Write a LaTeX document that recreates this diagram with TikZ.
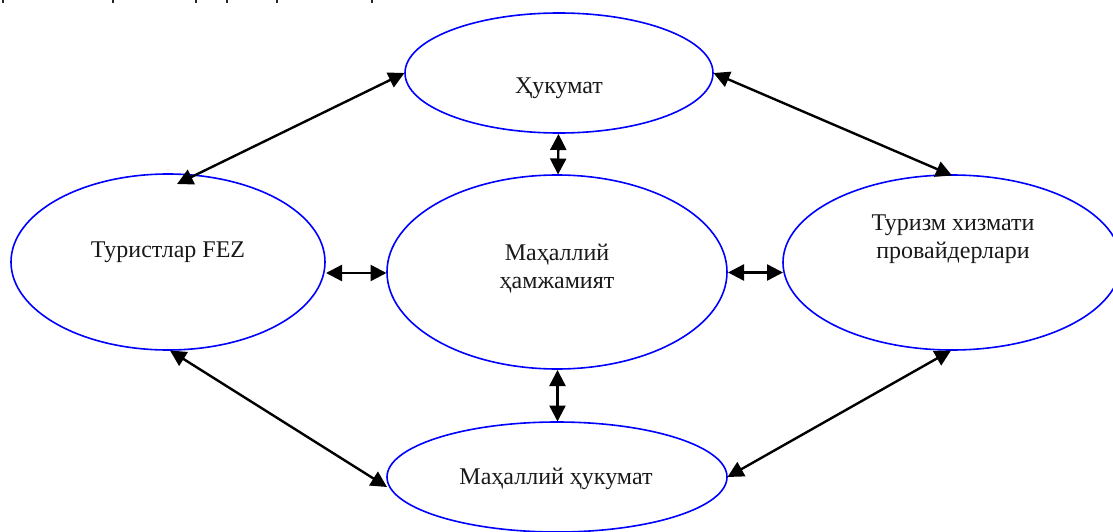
\documentclass[tikz,border=0pt]{standalone}
\usepackage{fontspec}
\setmainfont{Liberation Serif}
\usetikzlibrary{shapes.geometric,arrows.meta}
\tikzset{
  party/.style={draw=blue,line width=1.6pt,ellipse,inner sep=0pt,minimum width=#1},
  party/.default=100pt,
  lbl/.style={align=center,font=\fontsize{24}{28}\selectfont,text=black!90},
  link/.style={black,line width=2.4pt,{Triangle[length=16pt,width=16pt]}-{Triangle[length=16pt,width=16pt]}},
  stub/.style={black!85,line width=1.6pt}
}
\begin{document}
\begin{tikzpicture}[x=1pt,y=-1pt]
\useasboundingbox (0,0) rectangle (1113,532);
\clip (0,0) rectangle (1113,532);
\node[party=308pt,minimum height=120pt] (gov) at (559,73) {};
\node[party=340pt,minimum height=194pt] (com) at (557,272) {};
\node[party=314pt,minimum height=176pt] (tou) at (168,262) {};
\node[party=338pt,minimum height=175pt] (pro) at (952,262.5) {};
\node[party=340pt,minimum height=110pt] (loc) at (557,477) {};
\node[lbl] (lgov) at (559,88) {Ҳукумат};
\node[lbl] (lcom) at (557,269) {Маҳаллий\\ҳамжамият};
\node[lbl] (ltou) at (168,252) {Туристлар FEZ};
\node[lbl] (lpro) at (953,239) {Туризм хизмати\\провайдерлари};
\node[lbl] (lloc) at (556,479) {Маҳаллий ҳукумат};
\coordinate (a1) at (177,184);
\coordinate (a2) at (404.5,73);
\coordinate (b1) at (713.5,73);
\coordinate (b2) at (952,175.5);
\coordinate (c1) at (170,350.5);
\coordinate (c2) at (387,487);
\coordinate (d1) at (951,350.5);
\coordinate (d2) at (727.5,477);
\coordinate (e1) at (558.5,134);
\coordinate (e2) at (558,174.5);
\coordinate (f1) at (557.5,370);
\coordinate (f2) at (557.5,421.5);
\coordinate (g1) at (326,273);
\coordinate (g2) at (386.5,273);
\coordinate (h1) at (728,272.5);
\coordinate (h2) at (783,272.5);
\foreach \p/\q in {a1/a2,b1/b2,c1/c2,d1/d2,e1/e2,f1/f2,g1/g2,h1/h2}
  \draw[link] (\p) -- (\q);
\foreach \x in {3,113,196,227,277,372}
  \draw[stub] (\x,0) -- (\x,3.5);
\end{tikzpicture}
\end{document}
